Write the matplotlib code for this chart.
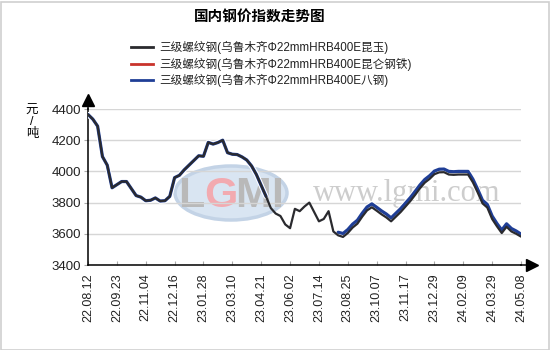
import numpy as np
import matplotlib
matplotlib.use("Agg")
import matplotlib.pyplot as plt
import matplotlib.patheffects as pe
from matplotlib.patches import Ellipse, Rectangle
from matplotlib.lines import Line2D

plt.rcParams['font.family'] = ['Liberation Sans', 'Noto Sans CJK SC', 'DejaVu Sans']

title = "国内钢价指数走势图"
unit_label = "元\n/\n吨"
series_names = [
    "三级螺纹钢(乌鲁木齐Φ22mmHRB400E昆玉)",
    "三级螺纹钢(乌鲁木齐Φ22mmHRB400E昆仑钢铁)",
    "三级螺纹钢(乌鲁木齐Φ22mmHRB400E八钢)",
]
tick_labels = ["22.08.12", "22.09.23", "22.11.04", "22.12.16", "23.01.28", "23.03.10",
               "23.04.21", "23.06.02", "23.07.14", "23.08.25", "23.10.07", "23.11.17",
               "23.12.29", "24.02.09", "24.03.29", "24.05.08"]
yticks = [3400, 3600, 3800, 4000, 4200, 4400]

# sampled every 5 trading days (tick every 30 trading days)
kunyu = [4365, 4335, 4290, 4095, 4040, 3895, 3915, 3935, 3935, 3890,
         3845, 3835, 3812, 3815, 3830, 3810, 3812, 3840, 3960, 3975,
         4010, 4040, 4070, 4100, 4097, 4186, 4175, 4185, 4200, 4120,
         4110, 4108, 4093, 4073, 4035, 3980, 3910, 3840, 3765, 3730,
         3714, 3660, 3636, 3760, 3745, 3775, 3800, 3740, 3680, 3695,
         3745, 3615, 3590, 3580, 3605, 3640, 3665, 3710, 3750, 3770,
         3748, 3725, 3705, 3680, 3710, 3740, 3775, 3810, 3850, 3892,
         3928, 3952, 3982, 3994, 3995, 3980, 3978, 3980, 3980, 3980,
         3930, 3865, 3795, 3768, 3695, 3648, 3605, 3645, 3615, 3600, 3582]
kunlun = [4365, 4335, 4290, 4095, 4040, 3895, 3915, 3935, 3935, 3890,
          3845, 3835, 3812, 3815, 3830, 3810, 3812, 3840, 3960, 3975,
          4010, 4040, 4070, 4100, 4097, 4186, 4175, 4185, 4200, 4120,
          4110, 4108, 4093, 4073, 4035, 3980, 3910, 3840, None, None,
          None, None, None, None, None, None, None, None, None, None,
          None, None, 3600, 3592, 3617, 3652, 3677, 3722, 3762, 3782,
          3760, 3737, 3717, 3692, 3722, 3752, 3787, 3822, 3862, 3905,
          3940, 3965, 3995, 4008, 4010, 3995, 3993, 3995, 3995, 3995,
          3945, 3880, 3810, 3782, 3708, 3660, 3618, 3658, 3628, 3612, 3594]
bagang = [4365, 4335, 4290, 4095, 4040, 3895, 3915, 3935, 3935, 3890,
          3845, 3835, 3812, 3815, 3830, 3810, 3812, 3840, 3960, 3975,
          4010, 4040, 4070, 4100, 4097, 4186, 4175, 4185, 4200, 4120,
          4110, 4108, 4093, 4073, 4035, 3980, 3910, 3840, None, None,
          None, None, None, None, None, None, None, None, None, None,
          None, None, 3610, 3602, 3627, 3662, 3687, 3732, 3772, 3792,
          3770, 3747, 3727, 3702, 3732, 3762, 3797, 3832, 3872, 3913,
          3948, 3972, 4002, 4014, 4015, 4000, 3998, 4000, 4000, 4000,
          3950, 3885, 3815, 3788, 3714, 3666, 3624, 3664, 3634, 3618, 3598]

W, H = 550, 350
fig = plt.figure(figsize=(W / 100, H / 100), dpi=100)
fig.patch.set_facecolor("white")
fig.add_artist(Rectangle((0.5 / W, 0.5 / H), 1 - 2 / W, 1 - 2 / H, transform=fig.transFigure,
                         fill=False, edgecolor="#cfcfcf", linewidth=1.2))

L, R, T, B = 88, 521, 109, 265
ax = fig.add_axes([L / W, 1 - B / H, (R - L) / W, (B - T) / H])

n_ticks = len(tick_labels)
span = 30 * (n_ticks - 1)
xs = np.linspace(0, span, len(kunyu))

def arr(v):
    return np.array([np.nan if a is None else a for a in v], dtype=float)

def fx(px):
    return (px - L) / (R - L)

def fy(py):
    return (B - py) / (B - T)

# watermark
ax.add_patch(Ellipse((fx(231), fy(193)), 112 / (R - L), 54 / (B - T), transform=ax.transAxes,
                     facecolor="#d9e5f2", edgecolor="#c3d3e6", linewidth=2.5, zorder=0))
for ch, px, col in [("L", 191, "#b9b9b9"), ("G", 221, "#f2aab0"), ("M", 253, "#b9b9b9"), ("I", 277, "#b9b9b9")]:
    ax.text(fx(px), fy(196), ch, transform=ax.transAxes, ha="center", va="center",
            fontsize=31, fontweight="bold", color=col, zorder=0.5)
ax.text(fx(407), fy(193), "www.lgmi.com", transform=ax.transAxes, ha="center", va="center",
        fontsize=22, color="#cdcdcd", family=["Liberation Serif", "DejaVu Serif"], zorder=0.5)

colors = ["#2a2a2e", "#c9332c", "#1f3e96"]
datas = [kunyu, kunlun, bagang]
order_z = [5, 3, 4]
widths = [1.6, 1.9, 2.3]
effects = [[],
           [pe.Stroke(linewidth=3.4, foreground="white"), pe.Normal()],
           [pe.Stroke(linewidth=3.8, foreground="white"), pe.Normal()]]
for data, col, z, lw, eff in zip(datas, colors, order_z, widths, effects):
    ax.plot(xs, arr(data), color=col, linewidth=lw, solid_capstyle="round",
            path_effects=eff, zorder=z)

ax.set_xlim(0, span)
ax.set_ylim(3400, 4400)
ax.set_yticks(yticks)
ax.set_yticklabels([str(v) for v in yticks], fontsize=9.5, color="#222222")
ax.set_xticks(np.arange(0, span + 1, 30))
ax.set_xticklabels(tick_labels, rotation=90, fontsize=9, color="#222222")
ax.grid(axis="y", color="#d6d6d6", linewidth=1)
ax.set_axisbelow(True)
for s in ["top", "right"]:
    ax.spines[s].set_visible(False)
for s in ["left", "bottom"]:
    ax.spines[s].set_color("black")
    ax.spines[s].set_linewidth(1.1)
ax.tick_params(axis="x", direction="in", length=3, color="#aaaaaa", pad=6)
ax.tick_params(axis="y", direction="out", length=3, color="#aaaaaa", pad=2)

# axis arrows
ax.plot([0, 0], [1, 1.06], transform=ax.transAxes, color="black", lw=1.1, clip_on=False)
ax.plot([0], [1.06], transform=ax.transAxes, marker="^", color="black", markersize=8, clip_on=False)
ax.plot([1, 1.025], [0, 0], transform=ax.transAxes, color="black", lw=1.1, clip_on=False)
ax.plot([1.025], [0], transform=ax.transAxes, marker=">", color="black", markersize=8, clip_on=False)

fig.text(260 / W, 1 - 17 / H, title, ha="center", va="center", fontsize=10.5, fontweight="bold")
fig.text(32 / W, 1 - 122 / H, unit_label, ha="center", va="center", fontsize=9, linespacing=0.95)

handles = [Line2D([], [], color=c, linewidth=2) for c in colors]
leg = fig.legend(handles=handles, labels=series_names, loc="upper left",
                 bbox_to_anchor=(131 / W, 1 - 41 / H), frameon=False,
                 fontsize=8.4, handlelength=1.9, handletextpad=0.55, labelspacing=0.3,
                 borderpad=0, borderaxespad=0)
for t in leg.get_texts():
    t.set_color("#222222")

fig.savefig("out.png", dpi=100)
